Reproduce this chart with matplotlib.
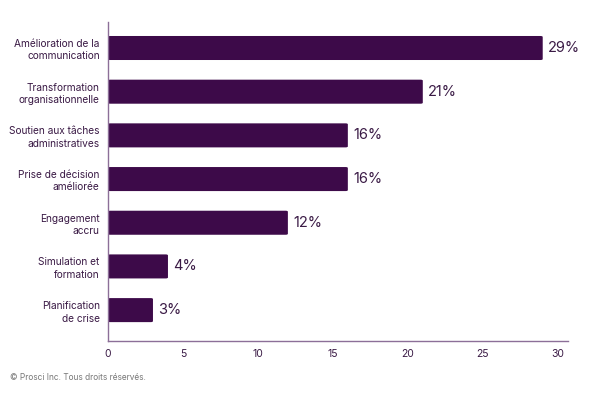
import matplotlib.pyplot as plt
from matplotlib.patches import FancyBboxPatch

categories = ['Amélioration de la\ncommunication', 'Transformation\norganisationnelle',
              'Soutien aux tâches\nadministratives', 'Prise de décision\naméliorée',
              'Engagement\naccru', 'Simulation et\nformation', 'Planification\nde crise']
values = [29, 21, 16, 16, 12, 4, 3]
xticks = [0, 5, 10, 15, 20, 25, 30]

plt.rcParams['font.family'] = ['Inter', 'DejaVu Sans']
bar_color = '#3d0a49'
axis_color = '#8c6f98'
text_color = '#3a1a45'

fig = plt.figure(figsize=(6, 3.93), dpi=100)
ax = fig.add_axes([0.18, 0.132, 0.767, 0.812])

h = 0.55
for i, v in enumerate(values):
    ax.add_patch(FancyBboxPatch((0, i - h / 2), v, h,
                                boxstyle='round,pad=0,rounding_size=0.15',
                                mutation_aspect=1 / 7.0,
                                facecolor=bar_color, edgecolor='none'))
    ax.text(v + 0.35, i, f'{v}%', va='center', ha='left', fontsize=10.5, color=text_color)

ax.set_xlim(0, 30.7)
ax.set_ylim(6.71, -0.595)
ax.set_yticks(range(len(categories)))
ax.set_yticklabels(categories, fontsize=7.3, color=text_color, linespacing=1.3)
ax.set_xticks(xticks)
ax.set_xticklabels([str(t) for t in xticks], fontsize=7.5, color=text_color)
ax.tick_params(length=0)
ax.tick_params(axis='x', pad=6)
ax.tick_params(axis='y', pad=6)
for s in ['top', 'right']:
    ax.spines[s].set_visible(False)
for s in ['left', 'bottom']:
    ax.spines[s].set_color(axis_color)
    ax.spines[s].set_linewidth(1)

fig.text(10 / 600, 1 - 378 / 393, '© Prosci Inc. Tous droits réservés.',
         fontsize=6, color='#777777', va='center', ha='left')

fig.savefig('out.png', dpi=100)
